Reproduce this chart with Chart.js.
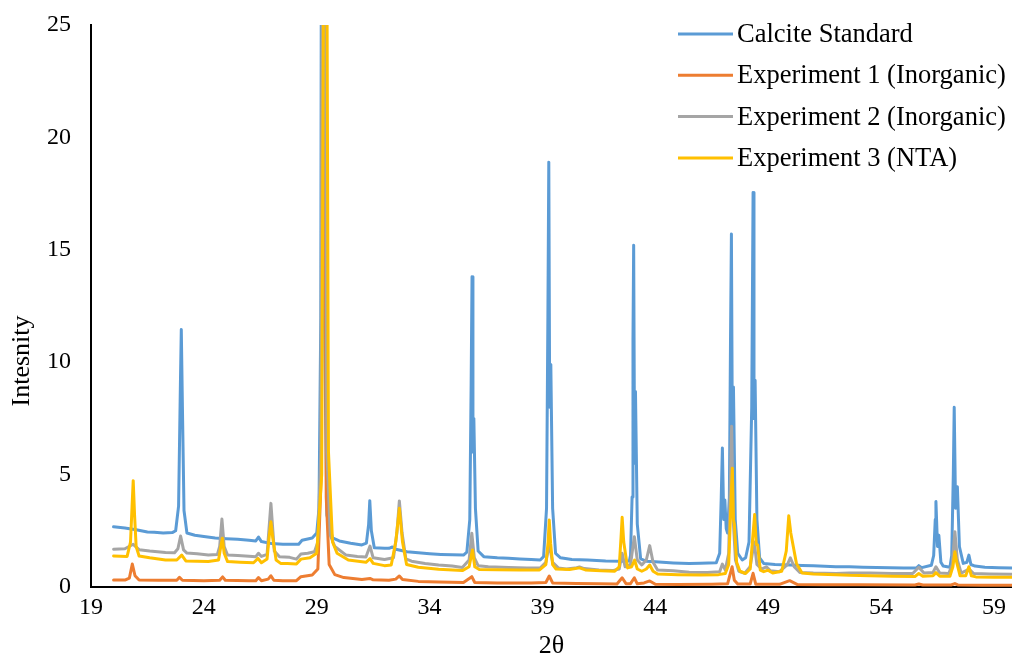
<!DOCTYPE html>
<html>
<head>
<meta charset="utf-8">
<script src="https://cdn.jsdelivr.net/npm/chart.js@4.4.1/dist/chart.umd.min.js"></script>
<style>
  html, body { margin: 0; padding: 0; background: #fff; }
  #wrap { width: 1012px; height: 660px; }
</style>
</head>
<body>
<div id="wrap"><canvas id="xrd"></canvas></div>
<script>
// XRD patterns, [2theta, intensity] pairs
const calciteStd = [
  [20.0, 2.68], [20.5, 2.62], [21.0, 2.55], [21.5, 2.45], [21.8, 2.44], [22.2, 2.40], [22.6, 2.42],
  [22.75, 2.5], [22.88, 3.6], [22.96, 9.0], [23.0, 11.45], [23.05, 8.0], [23.12, 3.4], [23.25, 2.4],
  [23.6, 2.3], [24.0, 2.25], [24.5, 2.18], [25.0, 2.15], [25.5, 2.12], [26.0, 2.08], [26.3, 2.05],
  [26.42, 2.22], [26.55, 2.02], [27.0, 1.93], [27.5, 1.9], [28.0, 1.9], [28.2, 1.9], [28.35, 2.08],
  [28.8, 2.18], [29.0, 2.4], [29.1, 3.5], [29.18, 12], [29.25, 60], [29.34, 12], [29.45, 3.2],
  [29.7, 2.18], [30.0, 2.05], [30.5, 1.95], [31.0, 1.87],
  [31.2, 1.95], [31.3, 2.8], [31.35, 3.84], [31.42, 2.5], [31.55, 1.75],
  [32.0, 1.72], [32.2, 1.72], [32.35, 1.78], [32.5, 1.68], [33.0, 1.57], [33.5, 1.52], [34.0, 1.48],
  [34.5, 1.45], [35.0, 1.43], [35.5, 1.42],
  [35.65, 1.55], [35.78, 3.0], [35.84, 9.0], [35.88, 13.8], [35.92, 6.0], [35.96, 7.5], [36.03, 3.5], [36.15, 1.6],
  [36.4, 1.35], [37.0, 1.3], [37.5, 1.28], [38.0, 1.25], [38.5, 1.22], [38.9, 1.2],
  [39.05, 1.35], [39.18, 3.5], [39.24, 12], [39.28, 18.9], [39.32, 8.0], [39.37, 9.9], [39.45, 3.5], [39.58, 1.5],
  [39.8, 1.3], [40.3, 1.22], [41.0, 1.2], [41.8, 1.16], [42.5, 1.15], [42.85, 1.16],
  [42.9, 1.4], [42.97, 4.0], [43.01, 11], [43.04, 15.2], [43.08, 5.5], [43.12, 8.7], [43.2, 2.8], [43.35, 1.25],
  [43.6, 1.15], [44.0, 1.12], [44.8, 1.07], [45.5, 1.04], [46.0, 1.06], [46.7, 1.08],
  [46.85, 1.5], [46.92, 4.0], [46.97, 6.18], [47.03, 3.0], [47.08, 3.87], [47.14, 2.6], [47.2, 2.4],
  [47.28, 4.0], [47.33, 11], [47.37, 15.7], [47.41, 7.0], [47.46, 8.9], [47.54, 3.0], [47.65, 1.5],
  [47.85, 1.2], [48.0, 1.3], [48.15, 2.0], [48.27, 8.0], [48.33, 17.55], [48.37, 7.5], [48.42, 9.2],
  [48.5, 3.0], [48.62, 1.3], [48.8, 1.05], [49.3, 1.0], [50.0, 0.98], [50.5, 0.96], [51.0, 0.94],
  [51.5, 0.92], [52.0, 0.9], [52.6, 0.9], [53.2, 0.88], [53.8, 0.87], [54.4, 0.86], [55.0, 0.85],
  [55.57, 0.84], [55.67, 0.95], [55.8, 0.86], [56.23, 0.97],
  [56.33, 1.4], [56.4, 3.0], [56.43, 3.8], [56.5, 1.8], [56.56, 2.3], [56.65, 1.1], [56.75, 0.93], [57.05, 0.88],
  [57.13, 1.4], [57.2, 5.0], [57.24, 8.0], [57.3, 3.5], [57.38, 4.46], [57.47, 1.8], [57.64, 1.05],
  [57.8, 1.1], [57.89, 1.42], [57.98, 1.0], [58.16, 0.93], [58.6, 0.88], [59.2, 0.86], [59.8, 0.85]
];

const exp1Inorganic = [
  [20.0, 0.31], [20.5, 0.31], [20.7, 0.4], [20.83, 1.02], [20.95, 0.5], [21.13, 0.31], [22.0, 0.3],
  [22.8, 0.3], [22.92, 0.43], [23.05, 0.3], [24.0, 0.28], [24.7, 0.3], [24.83, 0.45], [24.95, 0.3],
  [26.0, 0.28], [26.3, 0.28], [26.42, 0.42], [26.55, 0.28], [26.85, 0.35], [26.97, 0.5], [27.1, 0.3],
  [27.5, 0.28], [28.1, 0.28], [28.3, 0.46], [28.8, 0.53], [29.05, 0.8], [29.2, 5], [29.3, 40],
  [29.42, 4], [29.55, 1.0], [29.8, 0.55], [30.2, 0.42], [31.0, 0.33], [31.36, 0.38], [31.5, 0.32],
  [32.2, 0.3], [32.5, 0.35], [32.66, 0.49], [32.8, 0.33], [33.5, 0.25], [34.4, 0.22], [35.5, 0.2],
  [35.87, 0.46], [36.0, 0.2], [37.0, 0.18], [38.5, 0.18], [39.15, 0.2], [39.3, 0.49], [39.45, 0.18],
  [40.5, 0.16], [41.5, 0.14], [42.3, 0.13], [42.53, 0.41], [42.7, 0.15], [42.9, 0.15], [43.07, 0.41],
  [43.2, 0.14], [43.5, 0.18], [43.75, 0.27], [44.0, 0.12], [45.0, 0.11], [46.5, 0.12], [47.2, 0.14],
  [47.32, 0.6], [47.4, 0.9], [47.5, 0.3], [47.65, 0.13], [48.2, 0.13], [48.33, 0.61], [48.45, 0.12],
  [49.5, 0.12], [49.95, 0.28], [50.3, 0.11], [51.5, 0.1], [53.0, 0.1], [55.5, 0.09], [55.67, 0.13],
  [55.85, 0.09], [57.1, 0.09], [57.27, 0.15], [57.4, 0.09], [58.5, 0.08], [59.8, 0.08]
];

const exp2Inorganic = [
  [20.0, 1.68], [20.5, 1.7], [20.87, 1.9], [21.13, 1.66], [21.6, 1.6], [22.3, 1.53], [22.7, 1.52],
  [22.85, 1.7], [22.97, 2.27], [23.1, 1.65], [23.25, 1.51], [23.7, 1.48], [24.2, 1.42], [24.6, 1.45],
  [24.7, 1.8], [24.8, 3.02], [24.9, 1.8], [25.05, 1.42], [25.5, 1.4], [26.0, 1.37], [26.3, 1.35],
  [26.42, 1.5], [26.55, 1.36], [26.8, 1.45], [26.97, 3.72], [27.12, 1.6], [27.35, 1.35], [27.8, 1.32],
  [28.1, 1.24], [28.3, 1.47], [28.6, 1.5], [28.9, 1.57], [29.05, 2.0], [29.18, 6], [29.3, 45],
  [29.45, 6], [29.6, 2.3], [29.8, 1.8], [30.3, 1.42], [30.8, 1.36], [31.18, 1.33], [31.36, 1.82],
  [31.5, 1.3], [32.0, 1.22], [32.4, 1.3], [32.55, 2.4], [32.66, 3.83], [32.78, 2.4], [32.95, 1.25],
  [33.2, 1.15], [33.8, 1.05], [34.4, 0.98], [35.0, 0.93], [35.45, 0.87], [35.75, 1.2], [35.87, 2.39],
  [35.98, 1.3], [36.15, 0.95], [36.6, 0.9], [37.5, 0.87], [38.3, 0.85], [38.9, 0.84], [39.15, 1.1],
  [39.3, 1.9], [39.45, 1.1], [39.7, 0.85], [40.05, 0.8], [40.45, 0.84], [40.64, 0.89], [40.85, 0.82],
  [41.5, 0.76], [42.1, 0.73], [42.4, 0.8], [42.53, 1.5], [42.66, 0.9], [42.9, 1.0], [43.07, 2.24],
  [43.2, 1.2], [43.4, 0.98], [43.6, 1.2], [43.75, 1.84], [43.9, 1.1], [44.1, 0.76], [44.8, 0.72],
  [45.5, 0.66], [46.3, 0.65], [46.85, 0.68], [46.97, 1.02], [47.1, 0.75], [47.25, 1.5], [47.33, 5.0],
  [47.38, 7.15], [47.45, 3.0], [47.55, 1.2], [47.7, 0.7], [47.96, 0.61], [48.2, 0.9], [48.38, 2.0],
  [48.5, 1.0], [48.7, 0.8], [48.92, 0.9], [49.1, 0.72], [49.5, 0.68], [49.85, 1.0], [49.98, 1.3],
  [50.15, 0.9], [50.4, 0.65], [51.0, 0.62], [52.0, 0.6], [52.6, 0.62], [53.5, 0.62], [54.5, 0.6],
  [55.4, 0.6], [55.67, 0.88], [55.9, 0.62], [56.3, 0.65], [56.43, 0.9], [56.6, 0.62], [57.0, 0.6],
  [57.15, 1.0], [57.27, 2.46], [57.38, 1.2], [57.55, 0.62], [57.9, 0.8], [58.1, 0.6], [58.8, 0.58],
  [59.8, 0.57]
];

const exp3NTA = [
  [20.0, 1.38], [20.3, 1.37], [20.6, 1.36], [20.75, 2.0], [20.82, 3.6], [20.87, 4.73], [20.93, 3.2],
  [21.0, 1.8], [21.13, 1.38], [21.6, 1.3], [22.3, 1.2], [22.8, 1.2], [23.02, 1.42], [23.2, 1.16],
  [23.7, 1.14], [24.2, 1.13], [24.65, 1.2], [24.75, 1.8], [24.82, 2.17], [24.9, 1.5], [25.05, 1.13],
  [25.6, 1.1], [26.2, 1.08], [26.4, 1.27], [26.55, 1.08], [26.8, 1.25], [26.9, 2.3], [26.97, 2.9],
  [27.05, 2.2], [27.2, 1.2], [27.4, 1.05], [27.7, 1.05], [28.1, 1.02], [28.3, 1.24], [28.7, 1.3],
  [29.0, 1.5], [29.22, 5], [29.38, 50], [29.52, 6], [29.7, 2.0], [29.9, 1.5], [30.4, 1.2],
  [31.18, 1.1], [31.36, 1.26], [31.5, 1.05], [32.0, 0.95], [32.3, 0.98], [32.5, 2.0], [32.66, 3.5],
  [32.8, 2.0], [32.98, 1.0], [33.5, 0.88], [34.4, 0.79], [35.45, 0.73], [35.75, 0.9], [35.9, 1.65],
  [36.0, 0.9], [36.2, 0.78], [37.0, 0.77], [38.0, 0.76], [38.87, 0.76], [39.15, 1.0], [39.25, 2.0],
  [39.3, 2.98], [39.36, 1.95], [39.45, 1.0], [39.6, 0.8], [40.2, 0.78], [40.64, 0.85], [40.9, 0.76],
  [41.6, 0.72], [42.2, 0.7], [42.4, 0.9], [42.48, 2.2], [42.53, 3.1], [42.6, 2.0], [42.77, 0.85],
  [42.95, 0.9], [43.08, 1.2], [43.2, 0.8], [43.4, 0.7], [43.6, 0.8], [43.75, 0.98], [43.9, 0.7],
  [44.1, 0.58], [45.0, 0.55], [46.0, 0.53], [46.8, 0.55], [47.1, 0.6], [47.25, 1.0], [47.34, 3.5],
  [47.41, 5.28], [47.46, 3.0], [47.5, 2.8], [47.6, 1.1], [47.75, 0.7], [48.0, 0.6], [48.2, 0.8],
  [48.33, 2.4], [48.4, 3.23], [48.47, 1.9], [48.53, 1.87], [48.65, 0.75], [48.8, 0.68], [48.99, 0.75],
  [49.2, 0.62], [49.6, 0.7], [49.8, 1.6], [49.91, 3.17], [50.0, 2.4], [50.25, 1.05], [50.5, 0.62],
  [51.0, 0.58], [52.0, 0.55], [52.6, 0.52], [53.5, 0.5], [54.5, 0.48], [55.5, 0.47], [55.67, 0.6],
  [55.85, 0.48], [56.3, 0.5], [56.43, 0.64], [56.6, 0.48], [57.05, 0.48], [57.18, 0.9], [57.27, 1.57],
  [57.35, 1.1], [57.5, 0.5], [57.75, 0.5], [57.89, 0.9], [58.0, 0.5], [58.2, 0.45], [59.0, 0.43],
  [59.8, 0.43]
];

const seriesNames = ["Calcite Standard", "Experiment 1 (Inorganic)", "Experiment 2 (Inorganic)", "Experiment 3 (NTA)"];
const seriesColors = ["#5B9BD5", "#ED7D31", "#A5A5A5", "#FFC000"];
const xTicks = [19, 24, 29, 34, 39, 44, 49, 54, 59];
const yTicks = [0, 5, 10, 15, 20, 25];
const yTitle = "Intesnity";

const FONT = "'Liberation Serif', 'Times New Roman', serif";

const toPoints = (pairs) => pairs.map(([x, y]) => ({ x: x, y: y }));

const make_dataset = (pairs, i) => {
  return {
    label: seriesNames[i],
    data: toPoints(pairs),
    borderColor: seriesColors[i],
    backgroundColor: seriesColors[i],
    borderWidth: 3,
    borderJoinStyle: "round",
    borderCapStyle: "round",
    pointRadius: 0,
    tension: 0,
    // later series sit on top
    order: 4 - i,
  };
}

// legend inside the plot (top right) and the y title, which sits below the axis middle
const extras = {
  id: "extras",
  afterDraw: (chart) => {
    const { ctx, chartArea } = chart;
    const x0 = chartArea.right - 334;
    const y0 = chartArea.top + 9;
    ctx.save();
    ctx.font = "26.5px " + FONT;
    ctx.textBaseline = "middle";
    ctx.textAlign = "left";
    seriesNames.forEach((name, i) => {
      const y = y0 + i * 41.3;
      ctx.strokeStyle = seriesColors[i];
      ctx.lineWidth = 3;
      ctx.beginPath();
      ctx.moveTo(x0, y);
      ctx.lineTo(x0 + 55, y);
      ctx.stroke();
      ctx.fillStyle = "#000";
      ctx.fillText(name, x0 + 59, y + 1);
    });

    ctx.translate(22, chartArea.top + 336);
    ctx.rotate(-Math.PI / 2);
    ctx.textAlign = "center";
    ctx.font = "26px " + FONT;
    ctx.fillText(yTitle, 0, 0);
    ctx.restore();
  }
};

const ctx = document.getElementById("xrd").getContext("2d");
const plot = new Chart(ctx, {
  type: "line",
  data: {
    datasets: [calciteStd, exp1Inorganic, exp2Inorganic, exp3NTA].map(make_dataset)
  },
  options: {
    responsive: true,
    maintainAspectRatio: false,
    animation: false,
    layout: { padding: { top: 25, right: 0, left: 0, bottom: 0 } },
    plugins: {
      legend: { display: false },
      tooltip: { enabled: false },
    },
    scales: {
      x: {
        type: "linear",
        min: 19,
        max: 59.8,
        afterBuildTicks: (scale) => { scale.ticks = xTicks.map(v => ({ value: v })); },
        afterFit: (scale) => { scale.height = 73; },
        grid: { display: false, drawTicks: false },
        border: { display: true, color: "#000", width: 2 },
        ticks: { font: { family: FONT, size: 24 }, color: "#000", padding: 6, maxRotation: 0, autoSkip: false },
        title: { display: true, text: "2θ", font: { family: FONT, size: 26 }, color: "#000", padding: { top: 0, bottom: -2 } }
      },
      y: {
        type: "linear",
        min: 0,
        max: 25,
        afterBuildTicks: (scale) => { scale.ticks = yTicks.map(v => ({ value: v })); },
        afterFit: (scale) => {
          scale.width = 91;
          scale.paddingTop = 0;
          scale.paddingBottom = 0;
        },
        grid: { display: false, drawTicks: false },
        border: { display: true, color: "#000", width: 2 },
        ticks: { font: { family: FONT, size: 24 }, color: "#000", padding: 20 }
      }
    }
  },
  plugins: [extras]
});
</script>
</body>
</html>
